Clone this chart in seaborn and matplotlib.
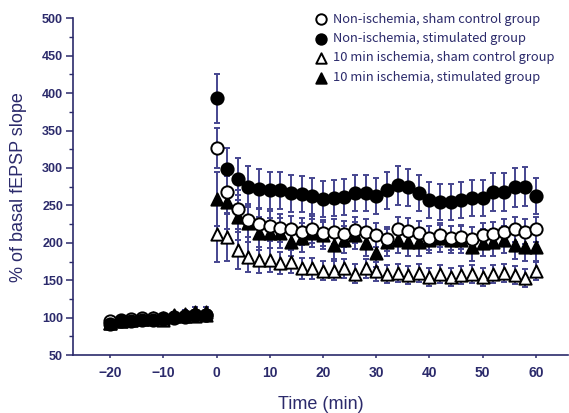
import numpy as np
import pandas as pd
import matplotlib
matplotlib.use("Agg")
import matplotlib.pyplot as plt
import seaborn as sns
from matplotlib.ticker import MultipleLocator

# time points (min)
t_base = [-20, -18, -16, -14, -12, -10, -8, -6, -4, -2]
t_post = list(range(0, 61, 2))
time = t_base + t_post

# group means (% of basal fEPSP slope)
sham_ctrl = [95, 97, 98, 99, 99, 100, 101, 102, 103, 104,
             327, 268, 245, 230, 225, 222, 220, 218, 215, 218, 213, 215, 212, 217, 215, 210,
             205, 218, 216, 213, 207, 210, 206, 208, 205, 210, 212, 215, 218, 215, 218]
stim = [92, 95, 96, 97, 97, 98, 100, 101, 103, 104,
        393, 298, 285, 275, 272, 270, 270, 266, 265, 262, 258, 260, 261, 266, 267, 263,
        270, 277, 274, 266, 257, 254, 254, 257, 260, 260, 268, 268, 274, 275, 262]
isch_sham = [93, 96, 97, 98, 98, 97, 102, 102, 102, 103,
             212, 208, 190, 181, 177, 177, 173, 175, 166, 166, 163, 163, 166, 159, 166, 162,
             158, 160, 157, 160, 155, 158, 155, 157, 158, 155, 158, 160, 157, 153, 162]
isch_stim = [93, 96, 97, 98, 99, 100, 103, 105, 108, 108,
             258, 254, 234, 226, 213, 213, 213, 201, 207, 213, 210, 197, 204, 210, 200, 186,
             201, 204, 201, 201, 204, 206, 204, 204, 194, 200, 201, 204, 197, 194, 194]

# error bars (SEM)
sham_ctrl_err = [4, 4, 4, 4, 4, 4, 4, 4, 4, 4,
                 27, 30, 26, 22, 20, 20, 19, 18, 18, 18, 17, 17, 17, 17, 17, 16,
                 16, 17, 17, 16, 16, 16, 16, 16, 16, 16, 16, 17, 17, 17, 17]
stim_err = [4, 4, 4, 4, 4, 4, 4, 4, 5, 5,
            33, 28, 28, 27, 26, 25, 25, 25, 24, 24, 24, 24, 24, 24, 24, 24,
            25, 26, 25, 24, 24, 24, 24, 24, 24, 24, 25, 25, 26, 26, 24]
isch_sham_err = [4, 4, 4, 4, 4, 4, 4, 4, 4, 4,
                 38, 32, 25, 20, 17, 16, 15, 15, 14, 14, 13, 13, 13, 13, 13, 13,
                 12, 12, 12, 12, 12, 12, 12, 12, 12, 12, 12, 12, 12, 12, 12]
isch_stim_err = [4, 4, 4, 4, 4, 4, 4, 5, 6, 6,
                 36, 35, 30, 25, 22, 20, 20, 19, 19, 19, 18, 18, 18, 18, 18, 18,
                 18, 18, 18, 18, 18, 18, 18, 18, 18, 18, 18, 18, 18, 18, 18]

labels = ["Non-ischemia, sham control group",
          "Non-ischemia, stimulated group",
          "10 min ischemia, sham control group",
          "10 min ischemia, stimulated group"]

navy = "#2b2a6b"
bar_col = "#45458f"

sns.set_theme(style="ticks")
plt.rcParams["font.family"] = ["Liberation Sans", "DejaVu Sans"]

fig = plt.figure(figsize=(5.69, 4.13), dpi=100)
ax = fig.add_axes([0.128, 0.140, 0.870, 0.816])

groups = [
    (labels[2], isch_sham, isch_sham_err, "^", "white"),
    (labels[3], isch_stim, isch_stim_err, "^", "black"),
    (labels[0], sham_ctrl, sham_ctrl_err, "o", "white"),
    (labels[1], stim, stim_err, "o", "black"),
]

for name, vals, err, mk, fc in groups:
    ax.errorbar(time, vals, yerr=err, fmt="none", ecolor=bar_col,
                elinewidth=1.4, capsize=2, capthick=1.4, zorder=2)
    df = pd.DataFrame({"time": time, "value": vals})
    sns.scatterplot(data=df, x="time", y="value", marker=mk, s=78,
                    facecolor=fc, edgecolor="black", linewidth=1.4,
                    ax=ax, zorder=3, label=name)

ax.set_xlim(-27, 66)
ax.set_ylim(50, 500)
ax.xaxis.set_major_locator(MultipleLocator(10))
ax.yaxis.set_major_locator(MultipleLocator(50))
ax.yaxis.set_minor_locator(MultipleLocator(25))

for s in ["top", "right"]:
    ax.spines[s].set_visible(False)
for s in ["left", "bottom"]:
    ax.spines[s].set_color(navy)
    ax.spines[s].set_linewidth(1.2)

ax.tick_params(axis="y", which="major", length=5, width=1.1, color=navy,
               labelcolor=navy, labelsize=9, direction="out", pad=2)
ax.tick_params(axis="y", which="minor", length=3, width=1.0, color=navy)
ax.tick_params(axis="x", which="major", length=2.5, width=1.1, color=navy,
               labelcolor=navy, labelsize=10, direction="out", pad=5)
for lb in ax.get_yticklabels() + ax.get_xticklabels():
    lb.set_fontweight("bold")

ax.set_xlabel("Time (min)", fontsize=13, color=navy, labelpad=12)
ax.set_ylabel("% of basal fEPSP slope", fontsize=13, color=navy, labelpad=11)

# legend in the original order
h, l = ax.get_legend_handles_labels()
order = [l.index(x) for x in labels]
leg = ax.legend([h[i] for i in order], [l[i] for i in order],
                loc="upper left", bbox_to_anchor=(0.478, 1.032), frameon=False,
                handletextpad=0.45, labelspacing=0.5, markerscale=0.85,
                borderaxespad=0, handlelength=1.0,
                prop={"family": ["Noto Sans CJK JP", "DejaVu Sans"], "size": 9.3})
for txt in leg.get_texts():
    txt.set_color(navy)

fig.savefig("out.png", dpi=100)
